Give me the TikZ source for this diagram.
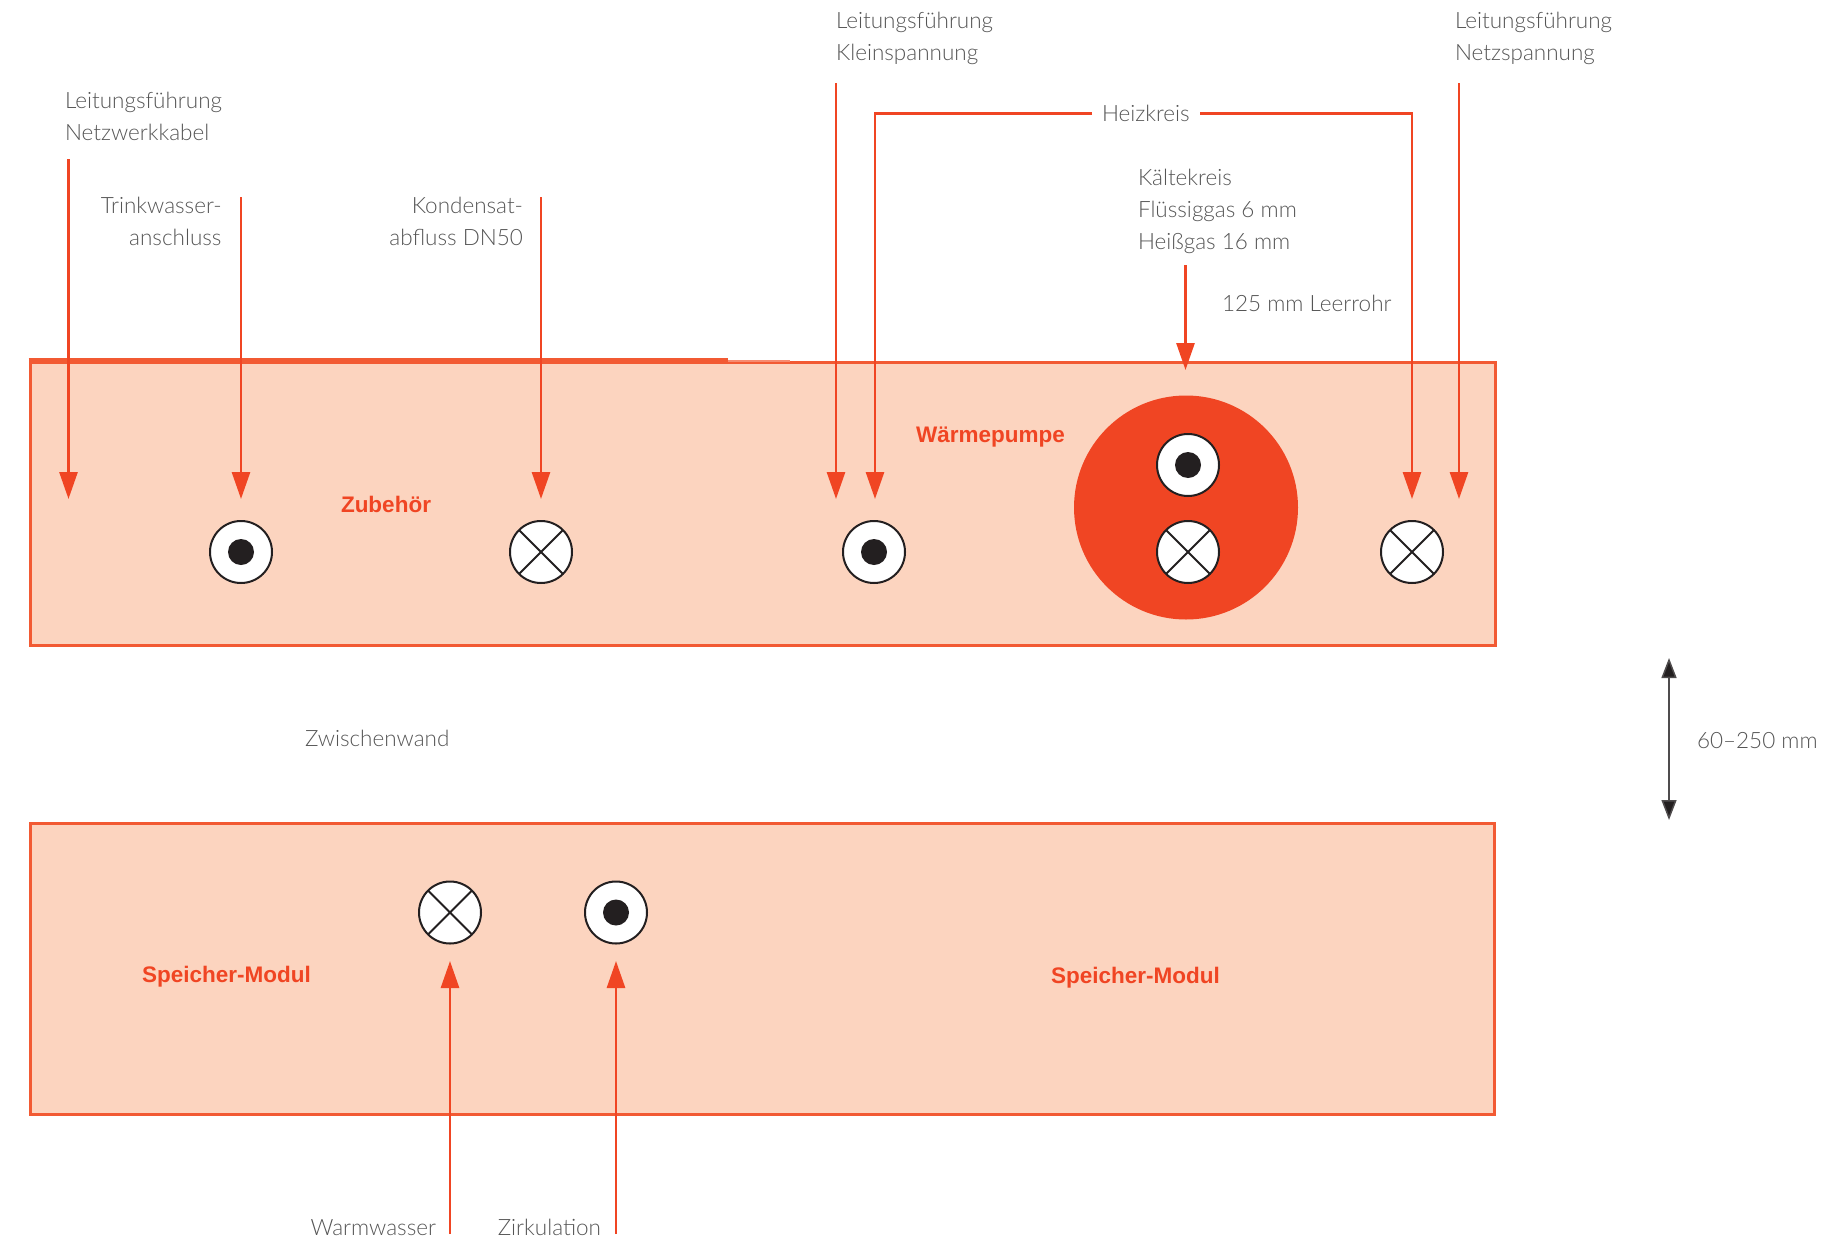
\documentclass[tikz,border=0pt]{standalone}
\usepackage{fontspec}
\setmainfont{Lato Light}
\newfontfamily\boldlabel{Liberation Sans Bold}
\usetikzlibrary{arrows.meta}
\definecolor{hot}{HTML}{F04523}
\definecolor{edgeo}{HTML}{F25A33}
\definecolor{peach}{HTML}{FCD4BF}
\definecolor{ink}{HTML}{231F20}
\definecolor{txt}{HTML}{555555}
\tikzset{
 x=1pt,y=-1pt,
 lab/.style={inner sep=0pt,outer sep=0pt,text=txt,font=\fontsize{22.5}{22.5}\selectfont,anchor=base west},
 labr/.style={lab,anchor=base east},
 red/.style={inner sep=0pt,outer sep=0pt,text=hot,font=\boldlabel\fontsize{22.5}{22.5}\selectfont,anchor=base west},
 panel/.style={fill=peach,draw=edgeo,line width=3pt,line join=miter},
 port/.style={circle,draw=ink,fill=white,line width=2pt,minimum size=62pt,inner sep=0pt,outer sep=0pt},
 dotmark/.style={circle,fill=ink,minimum size=26pt,inner sep=0pt,outer sep=0pt},
 feed/.style={draw=hot,line width=2.8pt,-{Triangle[width=18pt,length=27pt]}},
 dim/.style={draw=ink!80,line width=1.5pt,{Triangle[width=15pt,length=20pt,fill=ink]}-{Triangle[width=15pt,length=20pt,fill=ink]}},
 xline/.style={draw=ink,line width=2pt},
}
\newcommand{\crossed}[1]{\draw[xline] (#1.45) -- (#1.225) (#1.135) -- (#1.315);}
\begin{document}
\begin{tikzpicture}
\useasboundingbox (0,0) rectangle (1825,1239);
% panels
\path[panel] (30,362) rectangle (1495,645);
\path[panel] (30,823) rectangle (1494,1114);
\draw[draw=edgeo,line width=4.5pt] (28.5,360.5) -- (728,360.5);
\draw[draw=edgeo!70,line width=1.5pt] (728,361) -- (790,361);
% pump
\node[circle,fill=hot,minimum size=224pt,inner sep=0pt] (pump) at (1186,507.5) {};
% ports
\node[port] (p1) at (241,552) {};
\node[port] (p2) at (541,552) {};
\node[port] (p3) at (874,552) {};
\node[port] (p4) at (1188,465) {};
\node[port] (p5) at (1188,552) {};
\node[port] (p6) at (1412,552) {};
\node[port] (p7) at (450,912.5) {};
\node[port] (p8) at (616,912.5) {};
\node[dotmark] (d1) at (p1) {};
\node[dotmark] (d3) at (p3) {};
\node[dotmark] (d4) at (p4) {};
\node[dotmark] (d8) at (p8) {};
\crossed{p2}\crossed{p5}\crossed{p6}\crossed{p7}
% coordinates
\coordinate (a1s) at (68.5,159); \coordinate (a1e) at (68.5,499);
\coordinate (a2s) at (241,197); \coordinate (a2e) at (241,499);
\coordinate (a3s) at (541,197); \coordinate (a3e) at (541,499);
\coordinate (a4s) at (836,83); \coordinate (a4e) at (836,499);
\coordinate (a5e) at (875,499); \coordinate (a6e) at (1412,499);
\coordinate (a7s) at (1459,83); \coordinate (a7e) at (1459,499);
\coordinate (a8s) at (1185.5,265); \coordinate (a8e) at (1185.5,370);
\coordinate (a9s) at (450,1234); \coordinate (a9e) at (450,961);
\coordinate (a10s) at (616,1234); \coordinate (a10e) at (616,961);
\coordinate (dimt) at (1669,658); \coordinate (dimb) at (1669,820);
% texts
\node[lab] (n1) at (65,108) {Leitungsführung};
\node[lab] (n2) at (65,140) {Netzwerkkabel};
\node[labr] (t1) at (221.5,213) {Trinkwasser-};
\node[labr] (t2) at (221.5,245) {anschluss};
\node[labr] (k1) at (523,213) {Kondensat-};
\node[labr] (k2) at (523,245) {abfluss DN50};
\node[lab] (ks1) at (836,29) {Leitungsführung};
\node[lab] (ks2) at (836,61) {Kleinspannung};
\node[lab] (ns1) at (1455,29) {Leitungsführung};
\node[lab] (ns2) at (1455,61) {Netzspannung};
\node[lab] (hk) at (1102,121) {Heizkreis};
\node[lab] (kk1) at (1138,185) {Kältekreis};
\node[lab] (kk2) at (1138,217) {Flüssiggas 6 mm};
\node[lab] (kk3) at (1138,249) {Heißgas 16 mm};
\node[lab] (lr) at (1222,311) {125 mm Leerrohr};
\node[red] (wp) at (916,442) {Wärmepumpe};
\node[red] (zb) at (341,512) {Zubehör};
\node[lab] (zw) at (305,746) {Zwischenwand};
\node[lab] (mm) at (1697,748) {60–250 mm};
\node[red] (sm1) at (142,982) {Speicher-Modul};
\node[red] (sm2) at (1051,983) {Speicher-Modul};
\node[labr] (ww) at (436,1235) {Warmwasser};
\node[labr] (zi) at (601,1235) {Zirkulation};
% connectors
\draw[feed] (a1s) -- (a1e);
\draw[feed] (a2s) -- (a2e);
\draw[feed] (a3s) -- (a3e);
\draw[feed] (a4s) -- (a4e);
\draw[feed] (a7s) -- (a7e);
\draw[feed] (a8s) -- (a8e);
\draw[feed] (a9s) -- (a9e);
\draw[feed] (a10s) -- (a10e);
\coordinate (hl) at (1092,113.5); \coordinate (hr) at (1200,113.5);
\draw[feed] (hl) -- (a5e |- hl) -- (a5e);
\draw[feed] (hr) -- (a6e |- hr) -- (a6e);
\draw[dim] (dimt) -- (dimb);
\end{tikzpicture}
\end{document}
